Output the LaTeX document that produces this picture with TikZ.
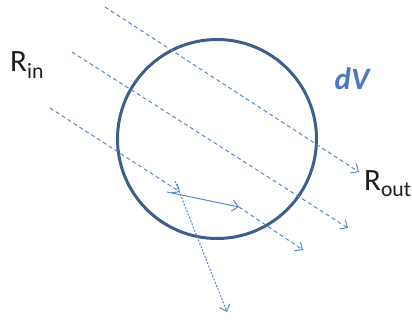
\documentclass[tikz,border=0pt]{standalone}
\usepackage{fontspec}
\setmainfont{Carlito}
\usetikzlibrary{arrows.meta}
\definecolor{rand}{HTML}{3E5F8E}
\definecolor{strahl}{HTML}{5A88CC}
\definecolor{volumen}{HTML}{4A78C2}
\definecolor{schrift}{HTML}{1E1E1E}

\begin{document}
\begin{tikzpicture}[x=1pt, y=-1pt,
    strahlpfeil/.style={-{Straight Barb[length=6pt,width=11pt]}, strahl, line width=1pt,
                        dash pattern=on 4pt off 3pt},
    etikett/.style={font=\fontsize{31}{36}\selectfont, text=schrift, inner sep=0pt}]
  \useasboundingbox (0,0) rectangle (412,320);

  % Volumen
  \node[circle, draw=rand, line width=3pt, minimum size=199pt, inner sep=0pt] (kugel) at (217,139) {};
  \node[font=\fontsize{31}{36}\selectfont\bfseries\itshape, text=volumen, inner sep=0pt] (dV) at (352,79) {dV};

  % Strahlen
  \coordinate (a1) at (105,7);
  \coordinate (b1) at (359,172);
  \coordinate (a2) at (72,52);
  \coordinate (b2) at (348,228);
  \coordinate (a3) at (50,108);
  \coordinate (s)  at (180,192);
  \coordinate (s0) at (167,192);
  \coordinate (s1) at (239,207);
  \coordinate (b3) at (303,250);
  \coordinate (t0) at (175,181);
  \coordinate (t1) at (227,312);

  \draw[strahlpfeil] (a1) -- (b1);
  \draw[strahlpfeil] (a2) -- (b2);
  \draw[strahlpfeil] (a3) -- (s);
  \draw[strahlpfeil, solid] (s0) -- (s1);
  \draw[strahlpfeil] (s1) -- (b3);
  \draw[strahlpfeil, dash pattern=on 2pt off 1.5pt] (t0) -- (t1);

  % Beschriftung
  \node[etikett, anchor=base west] (rin) at (10,72) {R\textsubscript{in}};
  \node[etikett, anchor=base west] (rout) at (364,191) {R\textsubscript{out}};
\end{tikzpicture}
\end{document}
